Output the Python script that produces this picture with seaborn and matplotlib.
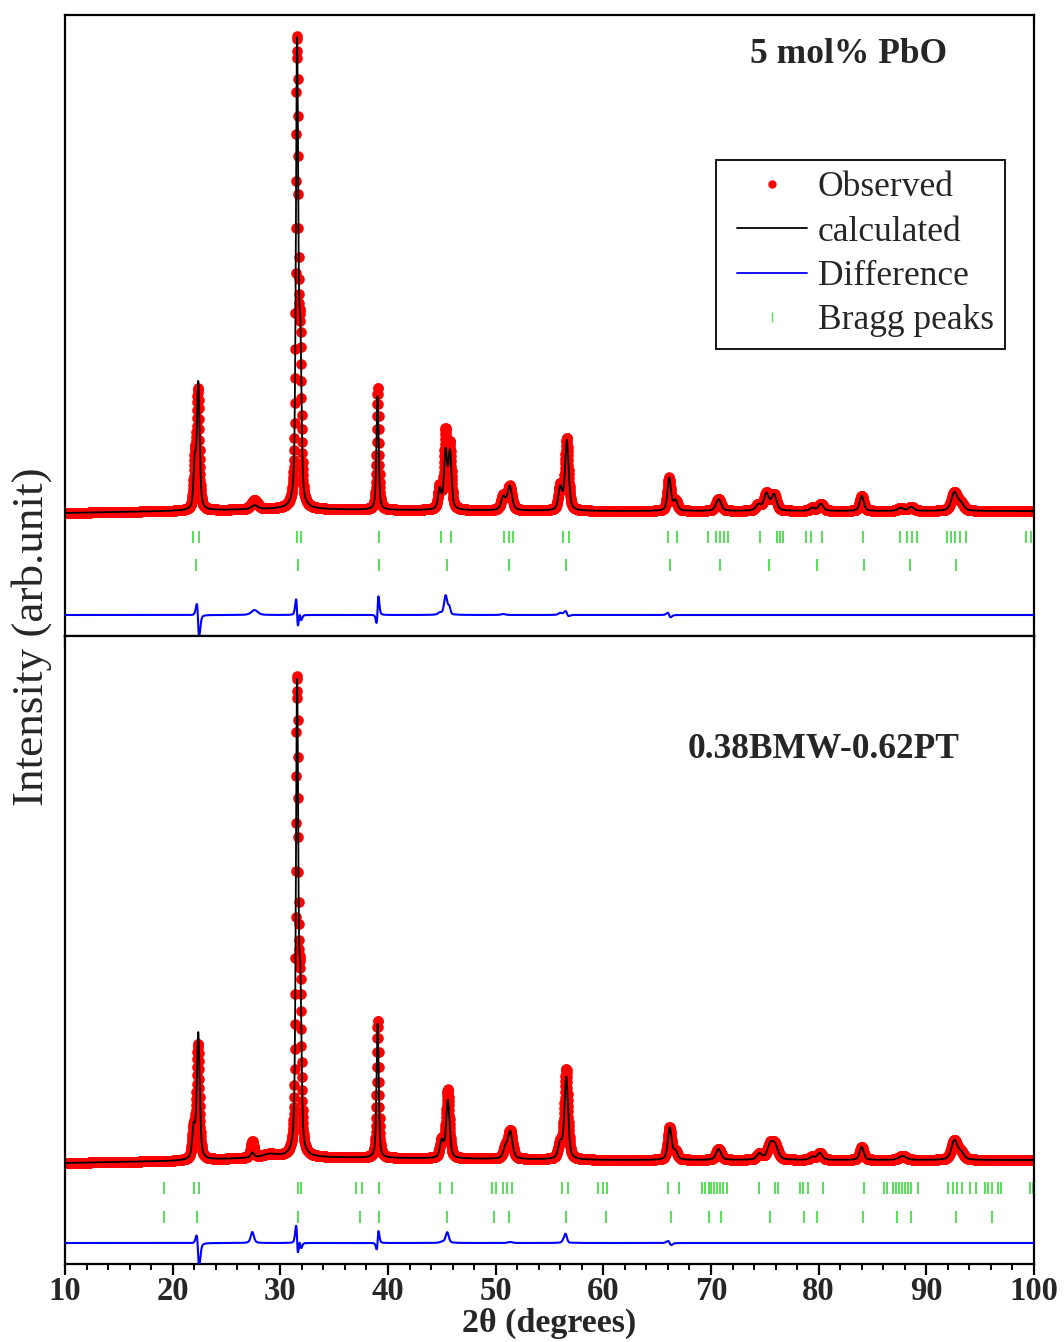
import numpy as np
import pandas as pd
import matplotlib
matplotlib.use("Agg")
import matplotlib.pyplot as plt
from matplotlib.ticker import MultipleLocator
from matplotlib.lines import Line2D
from matplotlib.legend_handler import HandlerLine2D
import seaborn as sns

# ---------------- data (arbitrary intensity units) ----------------
two_theta_start, two_theta_stop, two_theta_step = 10.0, 100.0, 0.02

# top panel: 5 mol% PbO
top_bg_x = [10, 20, 30, 40, 60, 80, 100]
top_bg_y = [123, 125, 127, 126, 125, 125, 125]
top_pos = [22.05, 22.35, 27.6, 31.55, 31.85, 39.05, 44.8, 45.35, 45.75, 50.7, 51.3,
           56.0, 56.6, 66.1, 66.7, 70.7, 74.4, 75.15, 75.85, 79.4, 80.2, 84.0,
           87.6, 88.6, 92.6, 93.2]
top_obs_h = [45, 118, 9, 460, 150, 122, 22, 76, 62, 14, 24,
             24, 72, 33, 10, 12, 6, 17, 16, 3, 7, 15, 3, 4, 18, 7]
top_calc_h = [45, 126, 4, 458, 150, 114, 20, 57, 56, 13, 24,
              22, 70, 33, 10, 12, 6, 17, 16, 3, 7, 15, 3, 4, 18, 7]
top_calc_shift = [0.0, 0.03, 0.0, 0.006, 0.006, -0.02, 0.0, 0.0, 0.01, 0.0, 0.0,
                  0.0, 0.01, 0.02, 0.0, 0.0, 0.0, 0.0, 0.0, 0.0, 0.0, 0.0, 0.0, 0.0, 0.0, 0.0]
top_fwhm = [0.27, 0.3, 0.7, 0.26, 0.26, 0.24, 0.35, 0.34, 0.34, 0.45, 0.5,
            0.4, 0.4, 0.38, 0.45, 0.55, 0.55, 0.55, 0.55, 0.5, 0.55, 0.45, 0.6, 0.6, 0.65, 0.65]
top_bragg1 = [21.9, 22.45, 31.55, 31.92, 39.16, 44.92, 45.85, 50.77, 51.24, 51.6,
              56.25, 56.8, 66.0, 66.84, 69.7, 70.45, 70.8, 71.2, 71.6, 74.55, 76.1,
              76.4, 76.7, 78.8, 79.3, 80.3, 84.1, 87.6, 88.2, 88.7, 89.1, 91.9, 92.3,
              92.7, 93.1, 93.7, 99.3, 99.7]
top_bragg2 = [22.2, 31.64, 39.16, 45.48, 51.24, 56.53, 66.2, 70.83, 75.4, 79.8,
              84.2, 88.5, 92.75]

# bottom panel: 0.38BMW-0.62PT
bot_bg_x = [10, 20, 30, 40, 60, 80, 100]
bot_bg_y = [101, 103, 107, 106, 104, 104, 104]
bot_pos = [21.95, 22.35, 27.4, 29.0, 31.55, 31.85, 39.05, 45.0, 45.55, 50.9, 51.35,
           56.0, 56.55, 66.15, 66.7, 70.7, 74.5, 75.5, 75.95, 79.4, 80.1, 84.0,
           87.8, 92.6, 93.2]
bot_obs_h = [30, 114, 16, 3, 468, 150, 138, 18, 68, 10, 28,
             15, 90, 32, 8, 11, 6, 14, 13, 3, 7, 13, 4, 19, 7]
bot_calc_h = [30, 126, 5, 3, 464, 150, 134, 17, 58, 10, 27,
              15, 82, 32, 8, 11, 6, 14, 13, 3, 7, 13, 4, 19, 7]
bot_calc_shift = [0.0, 0.03, 0.0, 0.0, 0.006, 0.006, -0.012, 0.0, 0.01, 0.0, 0.0,
                  0.0, 0.01, 0.02, 0.0, 0.0, 0.0, 0.0, 0.0, 0.0, 0.0, 0.0, 0.0, 0.0, 0.0]
bot_fwhm = [0.32, 0.32, 0.35, 1.5, 0.26, 0.26, 0.24, 0.4, 0.38, 0.45, 0.5,
            0.45, 0.4, 0.42, 0.45, 0.55, 0.55, 0.65, 0.65, 0.5, 0.55, 0.45, 0.8, 0.65, 0.65]
bot_bragg1 = [19.19, 21.98, 22.45, 31.64, 31.92, 37.03, 37.58, 39.16, 44.83, 45.94,
              49.66, 50.03, 50.68, 51.05, 51.52, 56.16, 56.72, 59.5, 59.97, 60.34,
              66.0, 67.0, 69.16, 69.44, 69.8, 70.0, 70.28, 70.56, 70.83, 71.1, 71.5,
              74.46, 75.94, 76.22, 78.27, 78.55, 79.0, 80.4, 84.2, 86.07, 86.34, 86.9,
              87.18, 87.46, 87.74, 88.0, 88.3, 88.57, 89.2, 92.0, 92.45, 92.85, 93.3,
              94.05, 94.6, 95.45, 95.7, 96.1, 96.65, 96.93, 99.6, 99.9]
bot_bragg2 = [19.19, 22.26, 31.64, 37.4, 39.16, 45.48, 49.84, 51.24, 56.53, 60.25,
              66.28, 69.8, 70.93, 75.48, 78.64, 79.85, 84.12, 87.27, 88.57, 92.75, 96.1]

# offsets of the difference curve and Bragg-marker rows
top_diff_offset, top_bragg_rows = 21, (99, 71)
bot_diff_offset, bot_bragg_rows = 21, (76, 47)

panel_titles = ["5 mol% PbO", "0.38BMW-0.62PT"]
legend_labels = ["Observed", "calculated", "Difference", "Bragg peaks"]


def profile(x, pos, heights, widths, shifts=None, eta=0.5):
    y = np.zeros_like(x)
    for i, (p, h, w) in enumerate(zip(pos, heights, widths)):
        c = p + (shifts[i] if shifts is not None else 0.0)
        d2 = ((x - c) / w) ** 2
        lor = 1.0 / (1.0 + 4.0 * d2)
        gau = np.exp(-4.0 * np.log(2) * d2)
        y += h * (eta * lor + (1 - eta) * gau)
    return y


x = np.arange(two_theta_start, two_theta_stop + 1e-9, two_theta_step)

# ---------------- style ----------------
sns.set_style("white")
plt.rcParams["font.family"] = ["Liberation Serif", "DejaVu Serif"]

fig = plt.figure(figsize=(10.64, 13.42), dpi=100)
left, right = 65 / 1064, 1034 / 1064
ax_top = fig.add_axes([left, 1 - 636 / 1342, right - left, (636 - 15) / 1342])
ax_bot = fig.add_axes([left, 1 - 1264 / 1342, right - left, (1264 - 636) / 1342])

red, green, blue = "#ff0000", "#55e055", "#0000ff"

panels = [
    (ax_top, top_bg_x, top_bg_y, top_pos, top_obs_h, top_calc_h, top_calc_shift, top_fwhm,
     top_bragg1, top_bragg2, top_diff_offset, top_bragg_rows, (0, 621)),
    (ax_bot, bot_bg_x, bot_bg_y, bot_pos, bot_obs_h, bot_calc_h, bot_calc_shift, bot_fwhm,
     bot_bragg1, bot_bragg2, bot_diff_offset, bot_bragg_rows, (0, 628)),
]

for (ax, bgx, bgy, pos, oh, ch, cs, fw, b1, b2, doff, brows, ylim) in panels:
    bg = np.interp(x, bgx, bgy)
    obs = bg + profile(x, pos, oh, fw)
    calc = bg + profile(x, pos, ch, fw, cs)
    diff = obs - calc + doff
    df = pd.DataFrame({"tt": x, "obs": obs, "calc": calc, "diff": diff})

    sns.scatterplot(data=df, x="tt", y="obs", ax=ax, color=red, s=58,
                    linewidth=0, legend=False, zorder=2)
    sns.lineplot(data=df, x="tt", y="calc", ax=ax, color="black", lw=1.3,
                 estimator=None, sort=False, zorder=3)
    sns.lineplot(data=df, x="tt", y="diff", ax=ax, color=blue, lw=1.5,
                 estimator=None, sort=False, zorder=3)
    bdf = pd.DataFrame({"tt": list(b1) + list(b2),
                        "row": [brows[0]] * len(b1) + [brows[1]] * len(b2)})
    sns.scatterplot(data=bdf, x="tt", y="row", ax=ax, marker="|", color=green,
                    s=70, linewidth=1.4, legend=False, zorder=2)

    ax.set_xlim(10, 100)
    ax.set_ylim(*ylim)
    ax.set_xlabel("")
    ax.set_ylabel("")
    ax.set_yticks([])
    ax.xaxis.set_major_locator(MultipleLocator(10))
    ax.xaxis.set_minor_locator(MultipleLocator(2))
    ax.tick_params(axis="x", which="major", direction="out", length=8, width=1.6,
                   bottom=True, top=False, color="black", pad=1)
    ax.tick_params(axis="x", which="minor", direction="out", length=4.5, width=1.4,
                   bottom=True, top=False, color="black")
    for sp in ax.spines.values():
        sp.set_linewidth(1.6)
        sp.set_color("black")
        sp.set_visible(True)
    ax.set_facecolor("white")

ax_top.tick_params(axis="x", which="both", labelbottom=False)
for lab in ax_bot.get_xticklabels():
    lab.set_fontweight("bold")
    lab.set_fontsize(23.5)

ax_bot.set_xlabel("2θ (degrees)", fontsize=24.5, fontweight="bold", labelpad=0)

ax_top.text(0.809, 0.936, panel_titles[0], transform=ax_top.transAxes,
            ha="center", va="center", fontsize=25.5, fontweight="bold")
ax_bot.text(0.783, 0.82, panel_titles[1], transform=ax_bot.transAxes,
            ha="center", va="center", fontsize=25.5, fontweight="bold")

fig.text(32 / 1064, 1 - 637 / 1342, "Intensity (arb.unit)", rotation=90,
         ha="center", va="center", fontsize=32.5)

handles = [
    Line2D([], [], ls="none", marker="o", color=red, markersize=5),
    Line2D([], [], color="black", lw=1.3),
    Line2D([], [], color=blue, lw=1.3),
    Line2D([], [], ls="none", marker="|", color=green, markersize=7, markeredgewidth=1.0),
]
leg = ax_top.legend(handles, legend_labels, loc="upper right",
                    bbox_to_anchor=(0.970, 0.7665), borderaxespad=0,
                    fontsize=25.5, frameon=True, fancybox=False, shadow=False,
                    handlelength=2.25, handletextpad=0.3, labelspacing=0.32,
                    borderpad=0.32, framealpha=1,
                    handler_map={Line2D: HandlerLine2D(xpad=0.28)})
leg.get_frame().set_edgecolor("black")
leg.get_frame().set_linewidth(1.3)

fig.savefig("out.png", dpi=100, facecolor="white")
